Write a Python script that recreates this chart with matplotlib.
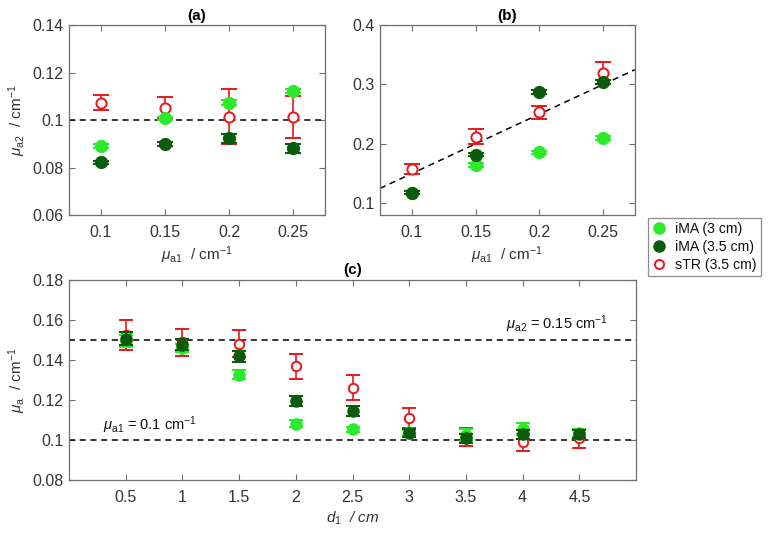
import matplotlib
matplotlib.use("Agg")
import matplotlib.pyplot as plt
from matplotlib.lines import Line2D

plt.rcParams['font.family'] = ['Liberation Sans', 'DejaVu Sans']
plt.rcParams['mathtext.fontset'] = 'custom'
plt.rcParams['mathtext.rm'] = 'Liberation Sans'
plt.rcParams['mathtext.it'] = 'Liberation Sans:italic'
plt.rcParams['font.size'] = 11

# panel (a) / (b): mu_a1 on x
mua1 = [0.1, 0.15, 0.2, 0.25]

# (a) recovered mu_a2
a_ima3 = [0.0892, 0.1007, 0.1074, 0.1124]
a_ima3_err = [0.0008, 0.0008, 0.0010, 0.0008]
a_ima35 = [0.0822, 0.0898, 0.0923, 0.0881]
a_ima35_err = [0.0007, 0.0008, 0.0020, 0.0018]
a_str = [0.1074, 0.1053, 0.1014, 0.1014]
a_str_err = [0.0032, 0.0045, 0.0115, 0.0088]

# (b) recovered mu_a2 (true mu_a2 = mu_a1 + 0.05)
b_ima3 = [0.118, 0.164, 0.1855, 0.210]
b_ima3_err = [0.003, 0.003, 0.003, 0.003]
b_ima35 = [0.1179, 0.182, 0.2877, 0.304]
b_ima35_err = [0.003, 0.003, 0.003, 0.003]
b_str = [0.158, 0.2123, 0.253, 0.319]
b_str_err = [0.008, 0.012, 0.011, 0.019]
b_line_x = [0.075, 0.275]
b_offset = 0.05

# (c) mu_a vs top layer thickness d1
d1 = [0.5, 1, 1.5, 2, 2.5, 3, 3.5, 4, 4.5]
c_ima3 = [0.1494, 0.1461, 0.1327, 0.1082, 0.1053, 0.1038, 0.1026, 0.1053, 0.1035]
c_ima3_err = [0.0030, 0.0020, 0.0022, 0.0016, 0.0014, 0.0014, 0.0030, 0.0030, 0.0018]
c_ima35 = [0.1506, 0.1477, 0.1419, 0.1197, 0.1143, 0.1037, 0.1009, 0.1029, 0.1031]
c_ima35_err = [0.0033, 0.0028, 0.0028, 0.0025, 0.0025, 0.0020, 0.0022, 0.0022, 0.0021]
c_str = [0.1524, 0.1488, 0.1482, 0.1368, 0.1262, 0.1110, 0.1016, 0.0989, 0.1008]
c_str_err = [0.0075, 0.0066, 0.0066, 0.0064, 0.0064, 0.0052, 0.0046, 0.0043, 0.0046]

light = '#2bea2b'
dark = '#0a5c0a'
red = '#e8171b'
axcol = '#6e6e6e'
txtcol = '#333333'

fig = plt.figure(figsize=(7.7, 5.35), dpi=100)
ax_a = fig.add_axes([0.0896, 0.598, 0.3325, 0.355])
ax_b = fig.add_axes([0.4935, 0.598, 0.331, 0.355])
ax_c = fig.add_axes([0.0896, 0.1028, 0.7364, 0.3738])


def draw(ax, x, ima3, e3, ima35, e35, tr, etr, cap, ms):
    ax.errorbar(x, tr, yerr=etr, fmt='o', color=red, mfc='white', mec=red,
                ms=ms - 1.2, mew=1.4, capsize=cap, elinewidth=1.2, capthick=1.2, zorder=3)
    ax.errorbar(x, ima3, yerr=e3, fmt='o', color=light, ms=ms, capsize=cap,
                elinewidth=1.2, capthick=1.5, zorder=4)
    ax.errorbar(x, ima35, yerr=e35, fmt='o', color=dark, ms=ms, capsize=cap,
                elinewidth=1.2, capthick=1.5, zorder=5)


def style(ax):
    for s in ax.spines.values():
        s.set_color(axcol)
        s.set_linewidth(0.9)
    ax.tick_params(direction='in', top=True, right=True, colors=axcol,
                   labelcolor=txtcol, length=4, width=0.8, labelsize=11.5)
    ax.tick_params(axis='x', pad=7)
    ax.tick_params(axis='y', pad=4)


draw(ax_a, mua1, a_ima3, a_ima3_err, a_ima35, a_ima35_err, a_str, a_str_err, 6, 8.5)
ax_a.axhline(0.1, color='black', ls=(0, (4, 3)), lw=1.1, zorder=2)
ax_a.set_xlim(0.075, 0.275)
ax_a.set_ylim(0.06, 0.14)
ax_a.set_xticks(mua1)
ax_a.set_xticklabels(['0.1', '0.15', '0.2', '0.25'])
ax_a.set_yticks([0.06, 0.08, 0.1, 0.12, 0.14])
ax_a.set_yticklabels(['0.06', '0.08', '0.1', '0.12', '0.14'])
ax_a.set_title('(a)', fontweight='bold', fontsize=11, pad=4)
ax_a.set_xlabel(r'$\mu_{\rm a1}$  / cm$^{-1}$', color=txtcol)
ax_a.set_ylabel(r'$\mu_{\rm a2}$  / cm$^{-1}$', color=txtcol)
ax_a.xaxis.set_label_coords(0.5, -0.155)
ax_a.yaxis.set_label_coords(-0.16, 0.5)
style(ax_a)

draw(ax_b, mua1, b_ima3, b_ima3_err, b_ima35, b_ima35_err, b_str, b_str_err, 6, 8.5)
ax_b.plot(b_line_x, [v + b_offset for v in b_line_x], color='black',
          ls=(0, (4, 3)), lw=1.1, zorder=2)
ax_b.set_xlim(0.075, 0.275)
ax_b.set_ylim(0.08, 0.4)
ax_b.set_xticks(mua1)
ax_b.set_xticklabels(['0.1', '0.15', '0.2', '0.25'])
ax_b.set_yticks([0.1, 0.2, 0.3, 0.4])
ax_b.set_yticklabels(['0.1', '0.2', '0.3', '0.4'])
ax_b.set_title('(b)', fontweight='bold', fontsize=11, pad=4)
ax_b.set_xlabel(r'$\mu_{\rm a1}$  / cm$^{-1}$', color=txtcol)
ax_b.xaxis.set_label_coords(0.5, -0.155)
style(ax_b)

draw(ax_c, d1, c_ima3, c_ima3_err, c_ima35, c_ima35_err, c_str, c_str_err, 5, 8)
ax_c.axhline(0.1, color='black', ls=(0, (4, 3)), lw=1.1, zorder=2)
ax_c.axhline(0.15, color='black', ls=(0, (4, 3)), lw=1.1, zorder=2)
ax_c.set_xlim(0, 5)
ax_c.set_ylim(0.08, 0.18)
ax_c.set_xticks(d1)
ax_c.set_xticklabels(['0.5', '1', '1.5', '2', '2.5', '3', '3.5', '4', '4.5'])
ax_c.set_yticks([0.08, 0.1, 0.12, 0.14, 0.16, 0.18])
ax_c.set_yticklabels(['0.08', '0.1', '0.12', '0.14', '0.16', '0.18'])
ax_c.set_title('(c)', fontweight='bold', fontsize=11, pad=4)
ax_c.set_xlabel(r'$d_1$  / cm', color=txtcol, fontstyle='italic')
ax_c.set_ylabel(r'$\mu_{\rm a}$  / cm$^{-1}$', color=txtcol)
ax_c.xaxis.set_label_coords(0.5, -0.15)
ax_c.yaxis.set_label_coords(-0.072, 0.5)
ax_c.text(3.85, 0.1578, r'$\mu_{\rm a2}$ = 0.15 cm$^{-1}$', color='#111111',
          va='center', ha='left', fontsize=10.5)
ax_c.text(0.30, 0.1076, r'$\mu_{\rm a1}$ = 0.1 cm$^{-1}$', color='#111111',
          va='center', ha='left', fontsize=10.5)
style(ax_c)

handles = [
    Line2D([], [], ls='none', marker='o', color=light, ms=8),
    Line2D([], [], ls='none', marker='o', color=dark, ms=8),
    Line2D([], [], ls='none', marker='o', mfc='white', mec=red, mew=1.4, ms=6.5),
]
leg = fig.legend(handles, ['iMA (3 cm)', 'iMA (3.5 cm)', 'sTR (3.5 cm)'],
                 loc='upper left', bbox_to_anchor=(0.8416, 0.5925), fontsize=10.2,
                 frameon=True, fancybox=False, handlelength=1.0, handletextpad=0.6,
                 borderpad=0.3, labelspacing=0.28, borderaxespad=0)
leg.get_frame().set_edgecolor(axcol)
leg.get_frame().set_linewidth(0.9)
for t in leg.get_texts():
    t.set_color('#111111')

fig.savefig('out.png', dpi=100)
